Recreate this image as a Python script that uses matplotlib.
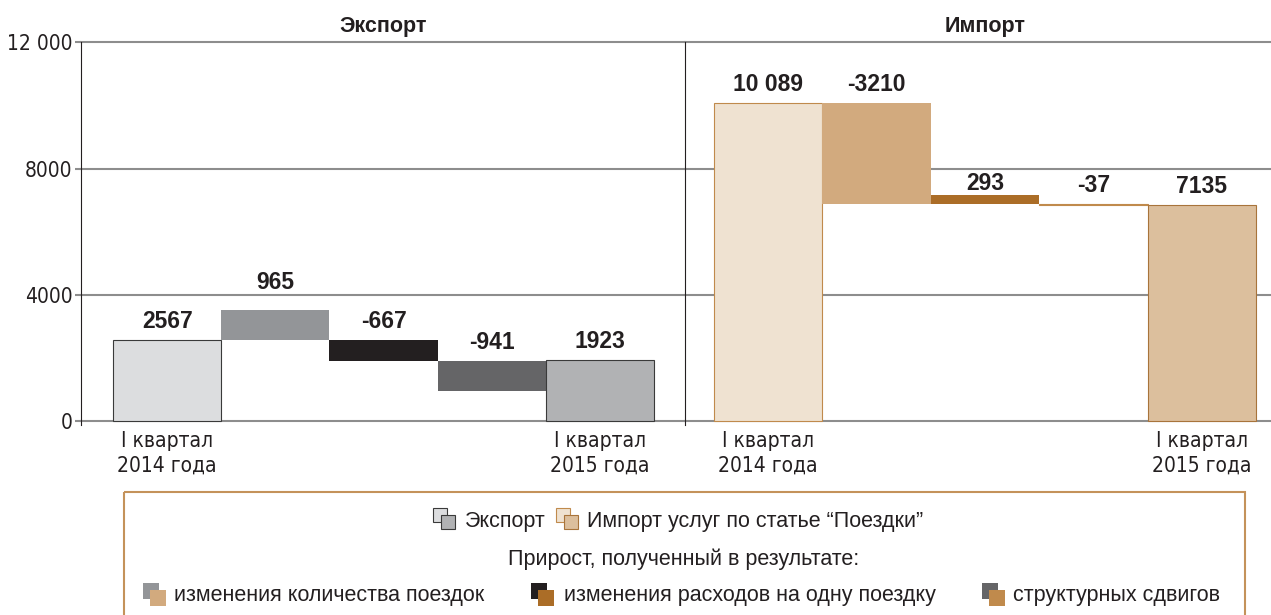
import matplotlib
matplotlib.use("Agg")
import matplotlib.pyplot as plt
from matplotlib.patches import Rectangle
from matplotlib.transforms import blended_transform_factory

# values shown on the chart
export_vals = [2567, 965, -667, -941, 1923]
import_vals = [10089, -3210, 293, -37, 7135]
# bar spans as they are drawn in the source picture
export_low = [0, 2567, 1900, 959, 0]
export_high = [2567, 3532, 2567, 1900, 1923]
import_low = [0, 6879, 6879, 6842, 0]
import_high = [10089, 10089, 7172, 6879, 6842]

y_ticks = [0, 4000, 8000, 12000]
y_labels = ["0", "4000", "8000", "12 000"]
period_labels = ["I квартал\n2014 года", "I квартал\n2015 года"]
panel_titles = ["Экспорт", "Импорт"]
legend_top = ["Экспорт", "Импорт услуг по статье “Поездки”"]
legend_mid = "Прирост, полученный в результате:"
legend_steps = ["изменения количества поездок", "изменения расходов на одну поездку",
                "структурных сдвигов"]

export_face = ["#dcdddf", "#939598", "#231f20", "#656567", "#b1b2b4"]
export_edge = ["#3a3a3a", "none", "none", "none", "#3a3a3a"]
import_face = ["#efe2d1", "#d2aa7e", "#ab6d27", "#c08a4c", "#dcbf9d"]
import_edge = ["#c08a4c", "none", "none", "#c08a4c", "#a8743b"]

TXT = "#231f20"
GRID = "#8d8d8d"
narrow = ["Liberation Sans Narrow", "DejaVu Sans"]
plt.rcParams["font.family"] = ["Liberation Sans", "DejaVu Sans"]


def fmt(v):
    if abs(v) >= 10000:
        return f"{v:,}".replace(",", " ")
    return str(v)


W, H = 1271, 615
fig = plt.figure(figsize=(W / 100, H / 100), dpi=100)
ax1 = fig.add_axes([81 / W, 189.9 / H, 604 / W, 382.6 / H])
ax2 = fig.add_axes([685 / W, 189.9 / H, 586 / W, 382.6 / H])

panels = [
    (ax1, export_vals, export_low, export_high, export_face, export_edge,
     (-0.796, 4.786), [8.6, 15, 8.6, 8.6, 8.6]),
    (ax2, import_vals, import_low, import_high, import_face, import_edge,
     (-0.768, 4.638), [8.6, 8.6, 3.1, 8.6, 8.6]),
]

for k, (ax, vals, low, high, face, edge, xl, lift) in enumerate(panels):
    heights = [h - l for h, l in zip(high, low)]
    ax.bar(range(len(vals)), heights, bottom=low, width=1.0, color=face,
           edgecolor=edge, linewidth=0.8, zorder=2)
    for i, v in enumerate(vals):
        ax.annotate(fmt(v), xy=(i, high[i]), xytext=(0, lift[i]),
                    textcoords="offset points", ha="center", va="baseline",
                    fontsize=16.5, fontweight="bold", color=TXT, zorder=3)
    ax.set_xlim(*xl)
    ax.set_ylim(-130, 12000)
    ax.set_yticks(y_ticks)
    ax.grid(axis="y", color=GRID, linewidth=1.5)
    for gl in ax.get_ygridlines():
        gl.set_clip_on(False)
    ax.set_axisbelow(True)
    ax.set_facecolor("none")
    for s in ["top", "right", "bottom"]:
        ax.spines[s].set_visible(False)
    ax.spines["left"].set_color(TXT)
    ax.spines["left"].set_linewidth(0.8)
    ax.set_xticks([0, len(vals) - 1])
    ax.set_xticklabels(period_labels, family=narrow, fontsize=15,
                       fontstretch="condensed", color=TXT, linespacing=1.3)
    ax.tick_params(axis="x", length=0, pad=4)
    tr = blended_transform_factory(ax.transData, fig.transFigure)
    ax.text(2, (H - 31.7) / H, panel_titles[k], transform=tr, ha="center",
            va="baseline", fontsize=15.5, fontweight="bold", color=TXT)

ax1.set_yticklabels(y_labels, family=narrow, fontsize=15,
                    fontstretch="condensed", color=TXT)
ax1.tick_params(axis="y", length=4, width=1.5, color=GRID, pad=2)
ax2.tick_params(axis="y", length=0, labelleft=False)

# legend box drawn in pixel space
lax = fig.add_axes([0, 0, 1, 1])
lax.set_xlim(0, W)
lax.set_ylim(H, 0)
lax.axis("off")
lax.add_patch(Rectangle((124, 491.7), 1121, 200, fill=False,
                        edgecolor="#c4925a", linewidth=1.5))


def icon(x, y, back, front, s=16, dx=7, dy=7, edges=("none", "none")):
    lax.add_patch(Rectangle((x, y), s, s, facecolor=back, edgecolor=edges[0],
                            linewidth=0.8))
    lax.add_patch(Rectangle((x + dx, y + dy), s, s, facecolor=front,
                            edgecolor=edges[1], linewidth=0.8))


icon(433, 508, export_face[0], export_face[4], s=14, dx=8, dy=7,
     edges=(export_edge[0], export_edge[4]))
icon(556, 508, import_face[0], import_face[4], s=14, dx=8, dy=7,
     edges=(import_edge[0], import_edge[4]))
lax.text(465, 527, legend_top[0], fontsize=15.5, color=TXT, va="baseline")
lax.text(587, 527, legend_top[1], fontsize=15.5, color=TXT, va="baseline")
lax.text(684, 565, legend_mid, fontsize=15.5, color=TXT, va="baseline",
         ha="center")

icon_x = [143, 531, 982]
text_x = [174, 564, 1013]
for j in range(3):
    icon(icon_x[j], 583, export_face[j + 1], import_face[j + 1])
    lax.text(text_x[j], 601, legend_steps[j], fontsize=15.5, color=TXT,
             va="baseline")

fig.savefig("out.png", dpi=100)
